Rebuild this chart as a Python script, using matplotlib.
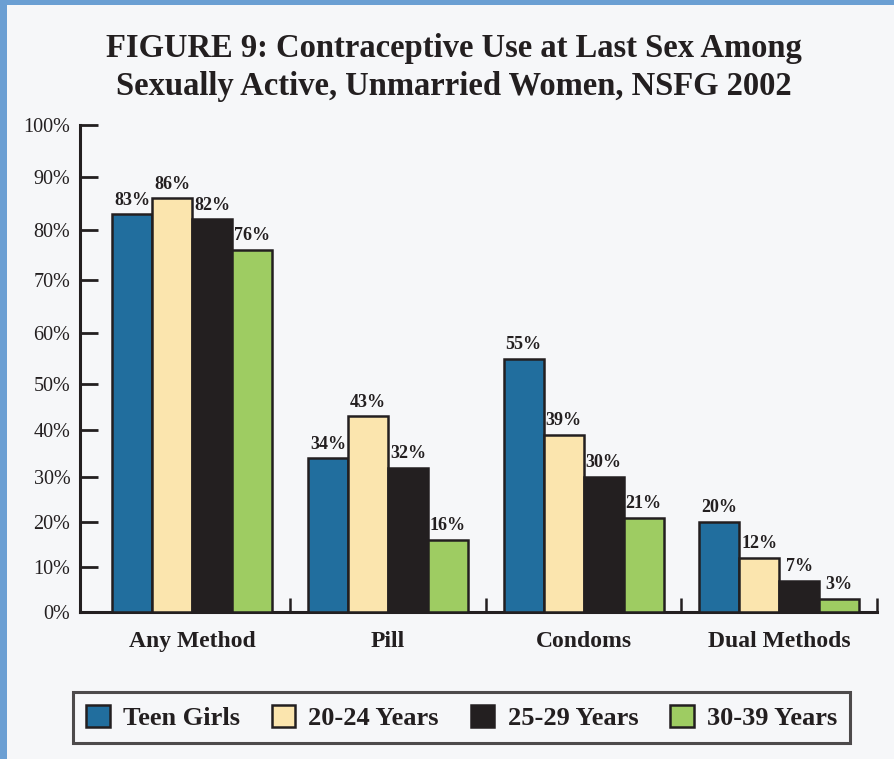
import numpy as np
import matplotlib
matplotlib.use("Agg")
import matplotlib.pyplot as plt
from matplotlib.patches import Rectangle

# ---- data ----
categories = ["Any Method", "Pill", "Condoms", "Dual Methods"]
series_names = ["Teen Girls", "20-24 Years", "25-29 Years", "30-39 Years"]
teen_girls = [83, 34, 55, 20]
years_20_24 = [86, 43, 39, 12]
years_25_29 = [82, 32, 30, 7]
years_30_39 = [76, 16, 21, 3]
y_ticks = [0, 10, 20, 30, 40, 50, 60, 70, 80, 90, 100]
y_tick_labels = [f"{t}%" for t in y_ticks]

series = [teen_girls, years_20_24, years_25_29, years_30_39]
colors = ["#216e9e", "#fbe5ae", "#231f20", "#9ecc62"]
ink = "#231f20"
bg = "#f6f7f9"
frame_blue = "#6b9fd3"

# printed axis spacing of the tick marks (upper half of the scale is stretched)
tick_spacing = [0, 45, 90, 135, 182, 228, 279, 332, 382, 435, 487]

def fwd(v):
    return np.interp(v, y_ticks, tick_spacing)

def inv(p):
    return np.interp(p, tick_spacing, y_ticks)

plt.rcParams["font.family"] = ["Liberation Serif", "DejaVu Serif"]

W, H = 894, 759
fig = plt.figure(figsize=(W / 100, H / 100), dpi=100, facecolor=bg)

# blue frame strips on the left and top edges
fig.patches.append(Rectangle((0, 0), 7 / W, 1, transform=fig.transFigure,
                             facecolor=frame_blue, edgecolor="none", zorder=0))
fig.patches.append(Rectangle((0, 1 - 5 / H), 1, 5 / H, transform=fig.transFigure,
                             facecolor=frame_blue, edgecolor="none", zorder=0))

ax = fig.add_axes([80 / W, 147 / H, 797 / W, 487 / H])
ax.set_facecolor(bg)
ax.set_yscale("function", functions=(fwd, inv))

x = np.arange(len(categories))
bw = 0.2046
for k, (vals, col, name) in enumerate(zip(series, colors, series_names)):
    xs = x + (k - 1.5) * bw
    ax.bar(xs, vals, width=bw, color=col, edgecolor=ink, linewidth=1.8,
           label=name, zorder=3)
    for xi, v in zip(xs, vals):
        ax.annotate(f"{v}%", (xi, v), xytext=(0, 4), textcoords="offset points",
                    ha="center", va="bottom", fontsize=13, fontweight="bold",
                    color=ink)

ax.set_ylim(0, 100)
ax.set_xlim(-0.575, 3.5)
ax.set_yticks(y_ticks)
ax.set_yticklabels(y_tick_labels)
ax.tick_params(axis="y", direction="in", length=13, width=2, colors=ink,
               labelsize=14.5, pad=7)
ax.yaxis.set_minor_locator(matplotlib.ticker.NullLocator())

ax.set_xticks(x)
ax.set_xticklabels(categories, fontsize=17, fontweight="bold", color=ink)
ax.tick_params(axis="x", length=0, pad=14)
ax.set_xticks(x + 0.5, minor=True)
ax.tick_params(axis="x", which="minor", direction="in", length=10, width=1.8,
               color=ink)

for side in ["top", "right"]:
    ax.spines[side].set_visible(False)
for side in ["left", "bottom"]:
    ax.spines[side].set_linewidth(2.2)
    ax.spines[side].set_color(ink)

fig.text(454 / W, 1 - 67.5 / H,
         "FIGURE 9: Contraceptive Use at Last Sex Among\n"
         "Sexually Active, Unmarried Women, NSFG 2002",
         ha="center", va="center", fontsize=23.5, fontweight="bold",
         color=ink, linespacing=1.32)

leg = fig.legend(loc="center", bbox_to_anchor=(461.5 / W, 1 - 717.5 / H),
                 ncol=4, frameon=True, fancybox=False,
                 prop={"weight": "bold", "size": 19},
                 handlelength=0.9, handleheight=0.9, handletextpad=0.5,
                 columnspacing=1.2, borderpad=0.5, borderaxespad=0)
leg.get_frame().set_edgecolor(ink)
leg.get_frame().set_linewidth(2.2)
leg.get_frame().set_facecolor(bg)
for t in leg.get_texts():
    t.set_color(ink)

fig.savefig("out.png", dpi=100, facecolor=bg)
